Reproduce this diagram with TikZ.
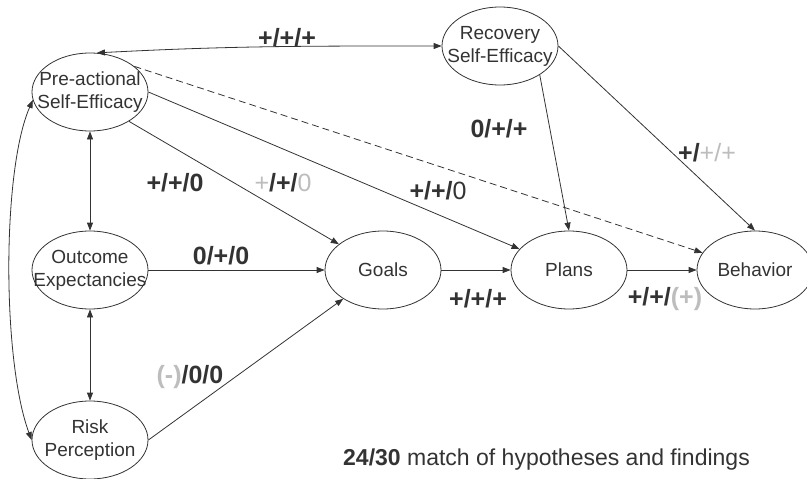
\documentclass[tikz,border=0pt]{standalone}
\usepackage{fontspec}
\setmainfont{Liberation Sans}
\usetikzlibrary{shapes.geometric,arrows.meta}
\definecolor{ink}{HTML}{333333}
\definecolor{soft}{HTML}{BDBDBD}
% centred multi-line label of zero width, so the ellipse keeps its set size
\newcommand\stacked[1]{\makebox[0pt]{\begin{tabular}{@{}c@{}}#1\end{tabular}}}
\newcommand\faint[1]{{\color{soft}#1}}
\begin{document}
\begin{tikzpicture}[x=1pt,y=-1pt,
  construct/.style={ellipse, draw=ink, line width=0.8pt, minimum width=116pt,
    minimum height=78pt, inner sep=0pt, text=ink, font=\fontsize{19}{23}\selectfont},
  link/.style={draw=ink, line width=0.8pt, -{Triangle[length=8pt,width=6pt]}},
  mutual/.style={link, {Triangle[length=8pt,width=6pt]}-{Triangle[length=8pt,width=6pt]}},
  sign/.style={text=ink, font=\fontsize{25}{28}\selectfont\bfseries, inner sep=0pt},
]
\useasboundingbox (0,0) rectangle (807,479);
\clip (0,0) rectangle (807,479);

% constructs
\node[construct] (pre)  at (90,92)   {\stacked{Pre-actional\\Self-Efficacy}};
\node[construct] (rec)  at (500,46)  {\stacked{Recovery\\Self-Efficacy}};
\node[construct] (out)  at (90,270)  {\stacked{Outcome\\Expectancies}};
\node[construct] (risk) at (90,440)  {\stacked{Risk\\Perception}};
\node[construct] (goals) at (383,270) {Goals};
\node[construct] (plans) at (569,270) {Plans};
\node[construct] (beh)  at (755,270) {Behavior};

% paths
\draw[mutual] (pre.80) to[out=3, in=180] (rec.west);
\draw[mutual] (pre.188) .. controls (2,170) and (2,360) .. (risk.180);
\draw[mutual] (pre.south) -- (out.north);
\draw[mutual] (out.south) -- (risk.north);
\draw[link] (pre.-37) -- (goals);
\draw[link] (pre.east) -- (plans);
\draw[link, dashed, dash pattern=on 7pt off 4pt] (pre.30) -- (beh);
\draw[link] (rec.-36) -- (plans.north);
\draw[link] (rec.east) -- (beh.north);
\draw[link] (out.east) -- (goals.west);
\draw[link] (risk.east) -- (goals);
\draw[link] (goals.east) -- (plans.west);
\draw[link] (plans.east) -- (beh.west);

% path coefficients
\node[sign] (s-prerec)  at (287,38)  {+/+/+};
\node[sign] (s-pregoal) at (175,183) {+/+/0};
\node[sign] (s-pregoalb) at (283,183) {\faint{\mdseries+}/+/\faint{\mdseries0}};
\node[sign] (s-preplan) at (438,191) {+/+/\mdseries0};
\node[sign] (s-recplan) at (499,129) {0/+/+};
\node[sign] (s-recbeh)  at (707,153) {+/\faint{\mdseries+/+}};
\node[sign] (s-outgoal) at (221,256) {0/+/0};
\node[sign] (s-riskgoal) at (190,377) {\faint{(-)}/0/0};
\node[sign] (s-goalplan) at (478,299) {+/+/+};
\node[sign] (s-planbeh) at (665,299) {+/+/\faint{(+)}};

\node[anchor=base west, inner sep=0pt, text=ink, font=\fontsize{23}{27}\selectfont]
  (score) at (343,465) {\textbf{24/30} match of hypotheses and findings};
\end{tikzpicture}
\end{document}
